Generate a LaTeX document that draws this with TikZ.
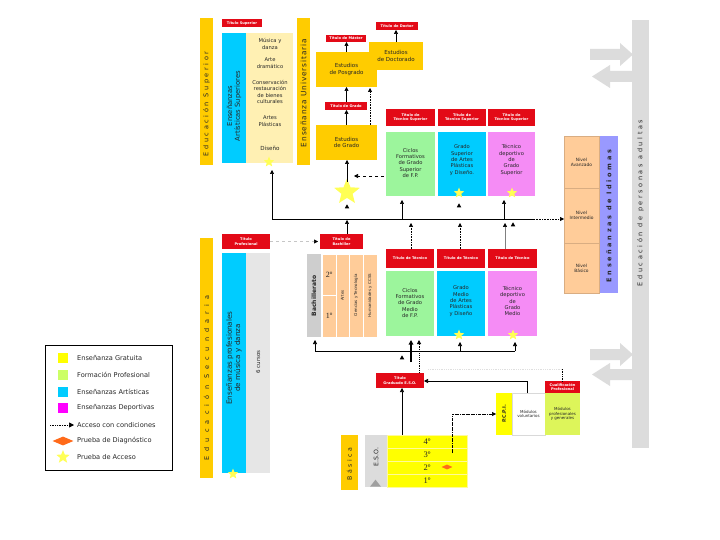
\documentclass[tikz,border=0pt]{standalone}
\usepackage{fontspec}
\setmainfont{DejaVu Sans}
\newfontfamily\serifnum{Liberation Serif}
\usetikzlibrary{arrows.meta,shapes.geometric}
\definecolor{gold}{HTML}{FFCC00}
\definecolor{tred}{HTML}{E30A17}
\definecolor{cream}{HTML}{FFF0B3}
\definecolor{artblue}{HTML}{00CCFF}
\definecolor{fpgreen}{HTML}{9CF59C}
\definecolor{legfp}{HTML}{CCFF66}
\definecolor{pinkd}{HTML}{F58CF5}
\definecolor{legmag}{HTML}{FF00FF}
\definecolor{peach}{HTML}{FFCC99}
\definecolor{lila}{HTML}{9999FF}
\definecolor{lgray}{HTML}{DCDCDC}
\definecolor{ygreen}{HTML}{DDF55A}
\definecolor{yel}{HTML}{FFFF00}
\definecolor{staryel}{HTML}{FFFF55}
\definecolor{diagor}{HTML}{FF6A1A}
\definecolor{txt}{HTML}{262626}
\begin{document}
\begin{tikzpicture}[x=1pt,y=-1pt,
  bx/.style={anchor=north west, inner sep=0pt, outer sep=0pt, align=center, font=\fontsize{5}{6}\selectfont, text=txt},
  tl/.style={bx, fill=tred, text=white, font=\fontsize{3.6}{4.3}\selectfont\bfseries},
  vt/.style={rotate=90, inner sep=0pt, align=center, text=txt},
  bt/.style={inner sep=0pt, align=center, text=txt, font=\fontsize{5.2}{6.4}\selectfont},
  ln/.style={line width=0.6pt},
  arr/.style={line width=0.6pt, -{Triangle[length=4pt,width=4pt]}},
  tri/.style={isosceles triangle, shape border rotate=90, fill=black, inner sep=0pt, minimum width=4.5pt, minimum height=4pt, isosceles triangle stretches},
  st/.style={star, star points=5, star point ratio=2.3, fill=staryel, inner sep=0pt, minimum size=11pt},
  lgt/.style={inner sep=0pt, anchor=west, font=\fontsize{6.6}{7}\selectfont, text=txt},
]
\fill[white] (0,0) rectangle (720,540);
\useasboundingbox (0,0) rectangle (720,540);

% ===================== LEGEND
\node[bx, draw=black, line width=0.7pt, minimum width=127pt, minimum height=125pt] (legend) at (45,345) {};
\node[bx, fill=yel, minimum size=10pt] (lg1) at (58,353) {};
\node[lgt] (lg1t) at (77,358) {Enseñanza Gratuita};
\node[bx, fill=legfp, minimum size=10pt] (lg2) at (58,370) {};
\node[lgt] (lg2t) at (77,375) {Formación Profesional};
\node[bx, fill=artblue, minimum size=10pt] (lg3) at (58,387) {};
\node[lgt] (lg3t) at (77,392) {Enseñanzas Artísticas};
\node[bx, fill=legmag, minimum size=10pt] (lg4) at (58,403) {};
\node[lgt] (lg4t) at (77,408) {Enseñanzas Deportivas};
\coordinate (lg5a) at (50,425);
\coordinate (lg5b) at (74,425);
\draw[densely dotted, line width=0.7pt, -{Triangle[length=5pt,width=5pt]}] (lg5a) -- (lg5b);
\node[lgt] (lg5t) at (77,425) {Acceso con condiciones};
\node[diamond, fill=diagor, inner sep=0pt, minimum width=21pt, minimum height=9pt] (lg6) at (63,441) {};
\node[lgt] (lg6t) at (77,441) {Prueba de Diagnóstico};
\node[st, minimum size=14pt] (lg7) at (63,457) {};
\node[lgt] (lg7t) at (77,457) {Prueba de Acceso};

% ===================== TOP LEFT
\node[bx, fill=gold, minimum width=13pt, minimum height=147pt] (edsup) at (200,18) {};
\node[vt, font=\fontsize{6.5}{7}\selectfont\addfontfeatures{LetterSpace=40}] (edsupT) at (206.5,104) {Educación Superior};
\node[tl, minimum width=40pt, minimum height=8pt] (titsup) at (222,19) {Título Superior};
\node[bx, fill=artblue, minimum width=24pt, minimum height=130pt] (eas) at (222,33) {};
\node[vt, font=\fontsize{6.8}{7.8}\selectfont] (easT) at (234,106) {Enseñanzas\\Artísticas Superiores};
\node[bx, fill=cream, minimum width=47pt, minimum height=130pt] (cream) at (246,33) {};
\node[bt] (c1) at (270,44) {Música y\\danza};
\node[bt] (c2) at (270,63) {Arte\\dramático};
\node[bt] (c3) at (270,92) {Conservación\\restauración\\de bienes\\culturales};
\node[bt] (c4) at (270,121) {Artes\\Plásticas};
\node[bt, font=\fontsize{5.6}{6.5}\selectfont] (c5) at (270,148) {Diseño};
\node[st] (s1) at (269,162) {};

\node[bx, fill=gold, minimum width=13pt, minimum height=147pt] (eu) at (297,18) {};
\node[vt, font=\fontsize{7.4}{8}\selectfont\addfontfeatures{LetterSpace=12}] (euT) at (303.5,93) {Enseñanza Universitaria};

% ===================== UNIVERSITY
\node[tl, minimum width=40pt, minimum height=7pt] (titmaster) at (326,35) {Título de Máster};
\node[tl, minimum width=42pt, minimum height=8pt] (titdoctor) at (376,22) {Título de Doctor};
\node[bx, fill=gold, minimum width=61pt, minimum height=35pt, font=\fontsize{5.5}{6.6}\selectfont] (posgrado) at (316,52) {Estudios\\de Posgrado};
\node[bx, fill=gold, minimum width=54pt, minimum height=28pt, font=\fontsize{5.5}{6.6}\selectfont] (doctorado) at (369,42) {Estudios\\de Doctorado};
\node[tl, minimum width=42pt, minimum height=8pt] (titgrado) at (325,102) {Título de Grado};
\node[bx, fill=gold, minimum width=61pt, minimum height=35pt, font=\fontsize{5.5}{6.6}\selectfont] (grado) at (316,125) {Estudios\\de Grado};

\draw[arr] (grado.north) -- (grado.north |- titgrado.south);
\draw[arr] (grado.north |- titgrado.north) -- (grado.north |- posgrado.south);
\draw[arr] (posgrado.north) -- (posgrado.north |- titmaster.south);
\draw[arr] (doctorado.north) -- (doctorado.north |- titdoctor.south);
\coordinate (gdA) at (370,125);
\coordinate (gdB) at (370,88);
\draw[densely dotted, arr] (gdA) -- (gdB);

% ===================== TECNICO SUPERIOR
\node[tl, minimum width=49pt, minimum height=17pt] (tts1) at (386,109) {Título de\\Técnico Superior};
\node[tl, minimum width=48pt, minimum height=17pt] (tts2) at (438,109) {Título de\\Técnico Superior};
\node[tl, minimum width=47pt, minimum height=17pt] (tts3) at (488,109) {Título de\\Técnico Superior};
\node[bx, fill=fpgreen, minimum width=49pt, minimum height=64pt] (cfgs) at (386,132) {};
\node[bx, fill=artblue, minimum width=48pt, minimum height=64pt] (gsap) at (438,132) {};
\node[bx, fill=pinkd, minimum width=47pt, minimum height=64pt] (tdgs) at (488,132) {};
\node[bt] (cfgsT) at (410.5,163) {Ciclos\\Formativos\\de Grado\\Superior\\de F.P.};
\node[bt] (gsapT) at (462,160) {Grado\\Superior\\de Artes\\Plásticas\\y Diseño.};
\node[bt] (tdgsT) at (511.5,160) {Técnico\\deportivo\\de\\Grado\\Superior};
\node[st] (s2) at (459,193) {};
\node[st] (s3) at (512,193) {};

% big star and access arrows to Grado
\node[st, minimum size=27pt] (bigstar) at (347,192) {};
\coordinate (bsA) at (347,182);
\draw[arr] (bsA) -- (bsA |- grado.south);
\node[tri] (t0) at (347,207) {};
\coordinate (dshA) at (384,176);
\coordinate (dshB) at (354,176);
\draw[dashed, arr] (dshA) -- (dshB);

% ===================== MAIN HORIZONTAL LINE L1
\coordinate (l1a) at (272,219);
\coordinate (dsA) at (272,170);
\coordinate (l1d) at (534,219);
\draw[arr] (l1d) -- (l1a) -- (dsA);
\coordinate (m1a) at (402,219);
\coordinate (m1b) at (402,200);
\draw[arr] (m1a) -- (m1b);
\node[tri] (t1) at (459,206) {};
\coordinate (m3a) at (504,219);
\coordinate (m3b) at (504,200);
\draw[arr] (m3a) -- (m3b);

% ===================== RIGHT: ADULTS & LANGUAGES
\node[bx, fill=lgray, minimum width=17pt, minimum height=428pt] (adult) at (632,20) {};
\node[vt, font=\fontsize{6.5}{7}\selectfont\addfontfeatures{LetterSpace=40}] (adultT) at (640.5,203) {Educación de personas adultas};
\fill[lgray] (590,49) -- (620,49) -- (620,43) -- (633,54.5) -- (620,66) -- (620,60) -- (590,60) -- cycle;
\fill[lgray] (633,71) -- (610,71) -- (610,65) -- (592,76.5) -- (610,88) -- (610,82) -- (633,82) -- cycle;
\fill[lgray] (590,349) -- (620,349) -- (620,343) -- (633,354.5) -- (620,366) -- (620,360) -- (590,360) -- cycle;
\fill[lgray] (633,369) -- (610,369) -- (610,363) -- (592,374.5) -- (610,386) -- (610,380) -- (633,380) -- cycle;

\node[bx, fill=lila, minimum width=18pt, minimum height=157pt] (idiomas) at (600,136) {};
\node[vt, font=\fontsize{6.5}{7}\selectfont\bfseries\addfontfeatures{LetterSpace=40}] (idiomasT) at (609,216) {Enseñanzas de Idiomas};
\node[bx, fill=peach, draw=peach!85!black, line width=0.2pt, minimum width=35pt, minimum height=52pt, font=\fontsize{4.4}{5.2}\selectfont] (avanzado) at (564,136) {Nivel\\Avanzado};
\node[bx, fill=peach, draw=peach!85!black, line width=0.2pt, minimum width=35pt, minimum height=55pt, font=\fontsize{4.4}{5.2}\selectfont] (intermedio) at (564,188) {Nivel\\Intermedio};
\node[bx, fill=peach, draw=peach!85!black, line width=0.2pt, minimum width=35pt, minimum height=50pt, font=\fontsize{4.4}{5.2}\selectfont] (basico) at (564,243) {Nivel\\Básico};
\draw[densely dotted, arr] (l1d) -- (l1d -| intermedio.west);

% ===================== SECONDARY LEFT
\node[bx, fill=gold, minimum width=13pt, minimum height=240pt] (edsec) at (200,238) {};
\node[vt, font=\fontsize{6.5}{7}\selectfont\addfontfeatures{LetterSpace=80}] (edsecT) at (206.5,378) {Educación Secundaria};
\node[tl, minimum width=48pt, minimum height=15pt] (titprof) at (222,234) {Título\\Profesional};
\node[bx, fill=artblue, minimum width=24pt, minimum height=220pt] (epmd) at (222,253) {};
\node[vt, font=\fontsize{7.2}{8.2}\selectfont] (epmdT) at (234,358) {Enseñanzas profesionales\\de música y danza};
\node[bx, fill=lgray!70, minimum width=24pt, minimum height=220pt] (cursos) at (246,253) {};
\node[vt, font=\fontsize{5.5}{6}\selectfont] (cursosT) at (258,362) {6 cursos};
\node[st] (s4) at (233,474) {};

% ===================== BACHILLERATO
\node[tl, minimum width=43pt, minimum height=15pt] (titbach) at (320,234) {Título de\\Bachiller};
\draw[gray!45, dashed, line width=0.6pt, -{Triangle[color=black,length=4pt,width=4pt]}, shorten >=2pt] (titprof.east) -- (titbach.west);
\coordinate (tbA) at (347,234);
\coordinate (tbB) at (347,220);
\draw[arr] (tbA) -- (tbB);
\node[bx, fill=lgray!85!gray, minimum width=14pt, minimum height=83pt] (bach) at (307,254) {};
\node[vt, font=\fontsize{6}{7}\selectfont\bfseries] (bachT) at (314,296) {Bachillerato};
\node[bx, fill=peach, draw=white, line width=0.6pt, minimum width=14pt, minimum height=41pt, font=\serifnum\fontsize{8}{9}\selectfont] (b2) at (322,254) {2º};
\node[bx, fill=peach, draw=white, line width=0.6pt, minimum width=14pt, minimum height=42pt, font=\serifnum\fontsize{8}{9}\selectfont] (b1) at (322,295) {1º};
\node[bx, fill=peach, draw=white, line width=0.6pt, minimum width=13pt, minimum height=83pt] (artes) at (336,254) {};
\node[bx, fill=peach, draw=white, line width=0.6pt, minimum width=14pt, minimum height=83pt] (ciencias) at (349,254) {};
\node[bx, fill=peach, draw=white, line width=0.6pt, minimum width=14pt, minimum height=83pt] (human) at (363,254) {};
\node[vt, font=\fontsize{4}{4.5}\selectfont] (artesT) at (artes.center) {Artes};
\node[vt, font=\fontsize{4}{4.5}\selectfont] (cienciasT) at (ciencias.center) {Ciencias y Tecnología};
\node[vt, font=\fontsize{4}{4.5}\selectfont] (humanT) at (human.center) {Humanidades y CCSS};

% ===================== TECNICO (MEDIO)
\node[tl, minimum width=48pt, minimum height=19pt] (tt1) at (386,249) {Título de Técnico};
\node[tl, minimum width=48pt, minimum height=19pt] (tt2) at (437,249) {Título de Técnico};
\node[tl, minimum width=49pt, minimum height=19pt] (tt3) at (488,249) {Título de Técnico};
\node[bx, fill=fpgreen, minimum width=48pt, minimum height=65pt] (cfgm) at (386,271) {};
\node[bx, fill=artblue, minimum width=48pt, minimum height=65pt] (gmap) at (437,271) {};
\node[bx, fill=pinkd, minimum width=49pt, minimum height=65pt] (tdgm) at (488,271) {};
\node[bt] (cfgmT) at (410,303) {Ciclos\\Formativos\\de Grado\\Medio\\de F.P.};
\node[bt] (gmapT) at (461,301) {Grado\\Medio\\de Artes\\Plásticas\\y Diseño};
\node[bt] (tdgmT) at (512.5,301) {Técnico\\deportivo\\de\\Grado\\Medio};
\node[st] (s5) at (459,335) {};
\node[st] (s6) at (513,335) {};

\coordinate (u1a) at (411,249);
\coordinate (u1b) at (411,223);
\draw[densely dotted, arr] (u1a) -- (u1b);
\coordinate (u2a) at (460,249);
\coordinate (u2b) at (460,223);
\draw[densely dotted, arr] (u2a) -- (u2b);
\coordinate (u3a) at (505,249);
\coordinate (u3b) at (505,223);
\draw[gray, line width=0.5pt, -{Triangle[color=black,length=4pt,width=4pt]}] (u3a) -- (u3b);
\node[tri] (t2) at (513,225) {};

% ===================== LINE L2
\coordinate (l2a) at (315,351);
\coordinate (l2b) at (515,351);
\coordinate (l2c) at (460,351);
\draw[ln] (l2a) -- (l2b);
\draw[arr] (l2a) -- (l2a |- 0,340);
\draw[arr] (l2c) -- (l2c |- 0,342);
\draw[arr] (l2b) -- (l2b |- 0,342);
\coordinate (thA) at (411,362);
\coordinate (thB) at (411,340);
\draw[line width=1.3pt, -{Triangle[length=4.5pt,width=4.5pt]}] (thA) -- (thB);
\node[tri] (t3) at (402,358) {};

% ===================== BOTTOM: ESO
\node[tl, minimum width=48pt, minimum height=15pt] (titgeso) at (376,373) {Título\\Graduado E.S.O.};
\coordinate (geA) at (419,373);
\coordinate (geB) at (419,340);
\draw[densely dotted, line width=0.9pt, -{Triangle[length=4pt,width=4pt]}] (geA) -- (geB);

\node[bx, fill=gold, minimum width=17pt, minimum height=55pt] (basica) at (341,435) {};
\node[vt, font=\fontsize{6.2}{7}\selectfont\addfontfeatures{LetterSpace=40}] (basicaT) at (349.5,464) {Básica};
\node[bx, fill=lgray, minimum width=22pt, minimum height=52pt] (eso) at (365,435) {};
\node[vt, font=\fontsize{6.2}{7}\selectfont] (esoT) at (376,457) {E.S.O.};
\node[isosceles triangle, shape border rotate=90, fill=gray!75, inner sep=0pt, minimum width=11pt, minimum height=7pt, isosceles triangle stretches] (esotri) at (375.5,484) {};
\node[bx, fill=yel, draw=white!60!yellow, line width=0.4pt, minimum width=80pt, minimum height=13pt, font=\serifnum\fontsize{8.5}{9}\selectfont] (e4) at (387,435) {4º};
\node[bx, fill=yel, draw=white!60!yellow, line width=0.4pt, minimum width=80pt, minimum height=13pt, font=\serifnum\fontsize{8.5}{9}\selectfont] (e3) at (387,448) {3º};
\node[bx, fill=yel, draw=white!60!yellow, line width=0.4pt, minimum width=80pt, minimum height=13pt, font=\serifnum\fontsize{8.5}{9}\selectfont] (e2) at (387,461) {2º};
\node[bx, fill=yel, draw=white!60!yellow, line width=0.4pt, minimum width=80pt, minimum height=13pt, font=\serifnum\fontsize{8.5}{9}\selectfont] (e1) at (387,474) {1º};
\node[diamond, fill=diagor, inner sep=0pt, minimum width=11pt, minimum height=5pt] (diag) at (447,467) {};

\coordinate (e4up) at (402,435);
\draw[arr] (e4up) -- (e4up |- titgeso.south);

% ===================== PCPI
\node[tl, minimum width=35pt, minimum height=12pt] (cualif) at (545,381) {Cualificación\\Profesional};
\node[bx, fill=yel, minimum width=16pt, minimum height=42pt] (pcpi) at (496,393) {};
\node[vt, font=\fontsize{4.8}{5.5}\selectfont\bfseries] (pcpiT) at (504,414) {P.C.P.I.};
\node[bx, fill=white, draw=gray!30, line width=0.4pt, minimum width=33pt, minimum height=42pt, font=\fontsize{4}{4.8}\selectfont] (modvol) at (512,393) {Módulos\\voluntarios};
\node[bx, fill=ygreen, minimum width=35pt, minimum height=42pt, font=\fontsize{4}{4.8}\selectfont] (modprof) at (545,393) {Módulos\\profesionales\\y generales};

\coordinate (pcA) at (527,393);
\coordinate (pcB) at (527,381);
\draw[arr] (pcA) -- (pcB) -- (pcB -| titgeso.east);
\coordinate (ddA) at (452,453);
\coordinate (ddB) at (452,414);
\draw[densely dash dot, arr] (ddA) -- (ddB) -- (ddB -| pcpi.west);
\coordinate (fA) at (428,369);
\coordinate (fB) at (562.5,369);
\draw[gray!25, densely dotted, line width=0.8pt] (fA) -- (fB);
\draw[densely dotted, line width=0.7pt] (fB) -- (cualif.north);

\end{tikzpicture}
\end{document}
